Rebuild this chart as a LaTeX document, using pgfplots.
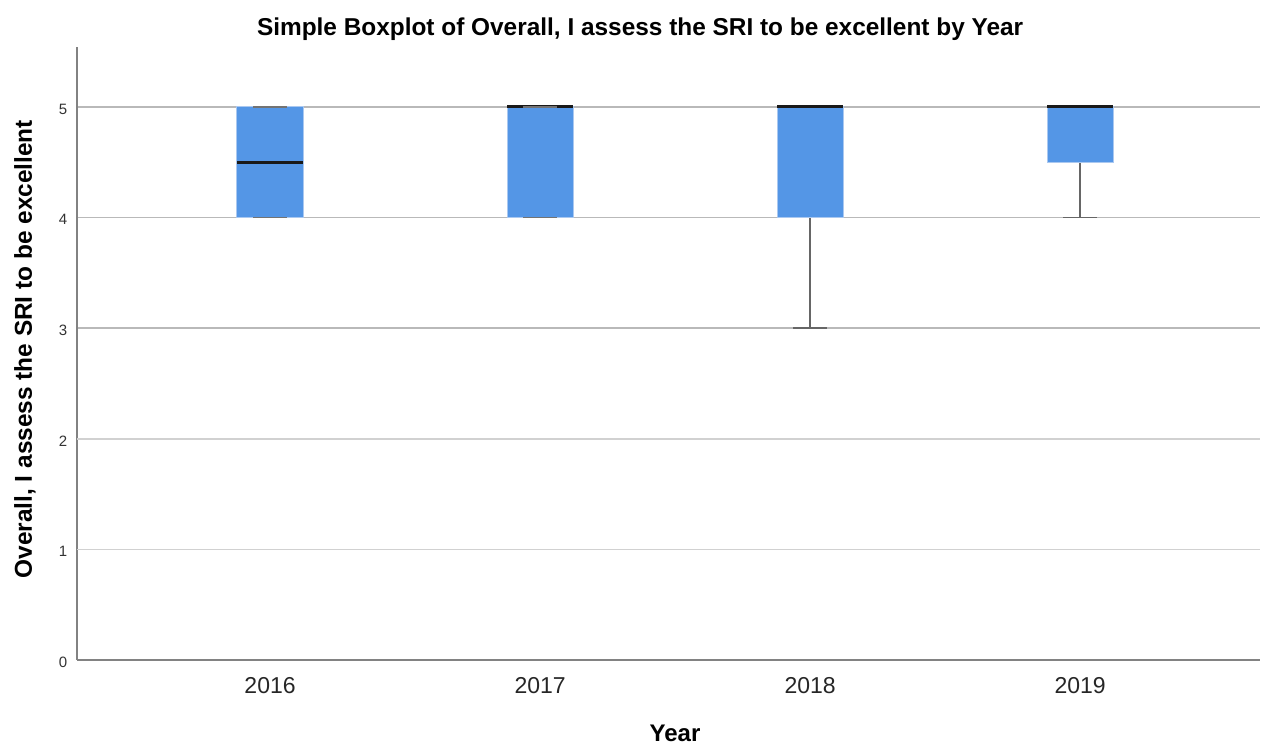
\documentclass[border=0pt]{standalone}
\usepackage{fontspec}
\setmainfont{Liberation Sans}
\usepackage{pgfplots}
\pgfplotsset{compat=1.18}
\usepgfplotslibrary{statistics}
\definecolor{boxfill}{RGB}{84,150,230}
\definecolor{boxedge}{RGB}{170,200,240}
\definecolor{gridc}{RGB}{185,185,185}
\definecolor{axisc}{RGB}{130,130,130}
\pgfplotsset{
  capsonly/.style={
    solid,
    boxplot/every box/.style={draw=none, fill=none},
    boxplot/every median/.style={draw=none},
    boxplot/every whisker/.style={solid, draw=black!55, line width=0.7pt},
  }
}
\begin{document}
\begin{tikzpicture}[x=1pt,y=1pt]
\begin{axis}[
  at={(0,0)}, anchor=south west,
  scale only axis, width=591.5pt, height=306.5pt,
  xmin=0.285, xmax=4.666, ymin=0, ymax=5.542,
  axis x line=bottom, axis y line=left,
  axis line style={-, draw=axisc, line width=0.9pt},
  major tick length=0pt,
  xtick={1,2,3,4}, xticklabels={2016,2017,2018,2019},
  ytick={0,3,4,5},
  extra y ticks={1,2},
  extra y tick style={grid style={draw=black!18, line width=0.8pt}},
  ymajorgrids, grid style={draw=gridc, line width=0.9pt},
  /pgf/number format/assume math mode=true,
  xticklabel style={font=\fontsize{11.5}{13}\selectfont, text=black!85, anchor=center, yshift=-13pt},
  yticklabel style={font=\fontsize{7.5}{9}\selectfont, text=black!80, anchor=center, xshift=-7pt, yshift=-1pt},
  title={Simple Boxplot of Overall, I assess the SRI to be excellent by Year},
  title style={font=\bfseries\fontsize{12.2}{14}\selectfont, at={(axis description cs:0.476,1)}, anchor=center, yshift=3pt},
  xlabel={Year},
  xlabel style={font=\bfseries\fontsize{12}{14}\selectfont, at={(axis description cs:0.5055,-0.119)}, anchor=center},
  ylabel={Overall, I assess the SRI to be excellent},
  ylabel style={font=\bfseries\fontsize{12.2}{14}\selectfont, at={(axis description cs:-0.044,0.507)}, anchor=center},
  boxplot/draw direction=y,
  boxplot/box extend=0.245,
  boxplot/whisker extend=0.126,
  boxplot/every box/.style={solid, draw=boxedge, line width=0.5pt, fill=boxfill},
  boxplot/every median/.style={solid, draw=black!90, line width=1.5pt},
  boxplot/every whisker/.style={solid, draw=black!60, line width=0.8pt},
  clip=false,
]
\addplot[mark=none, boxplot prepared={lower whisker=4, lower quartile=4, median=4.5, upper quartile=5, upper whisker=5, draw position=1}] coordinates {};
\addplot[mark=none, boxplot prepared={lower whisker=4, lower quartile=4, median=5, upper quartile=5, upper whisker=5, draw position=2}] coordinates {};
\addplot[mark=none, boxplot prepared={lower whisker=3, lower quartile=4, median=5, upper quartile=5, upper whisker=5, draw position=3}] coordinates {};
\addplot[mark=none, boxplot prepared={lower whisker=4, lower quartile=4.5, median=5, upper quartile=5, upper whisker=5, draw position=4}] coordinates {};
% whisker caps drawn again on top of the boxes
\addplot[mark=none, capsonly, boxplot prepared={lower whisker=4, lower quartile=4, median=4.5, upper quartile=5, upper whisker=5, draw position=1}] coordinates {};
\addplot[mark=none, capsonly, boxplot prepared={lower whisker=4, lower quartile=4, median=5, upper quartile=5, upper whisker=5, draw position=2}] coordinates {};
\end{axis}
\pgfresetboundingbox
\path[use as bounding box] (-38.5pt,-43.5pt) rectangle (593.5pt,330pt);
\end{tikzpicture}
\end{document}
